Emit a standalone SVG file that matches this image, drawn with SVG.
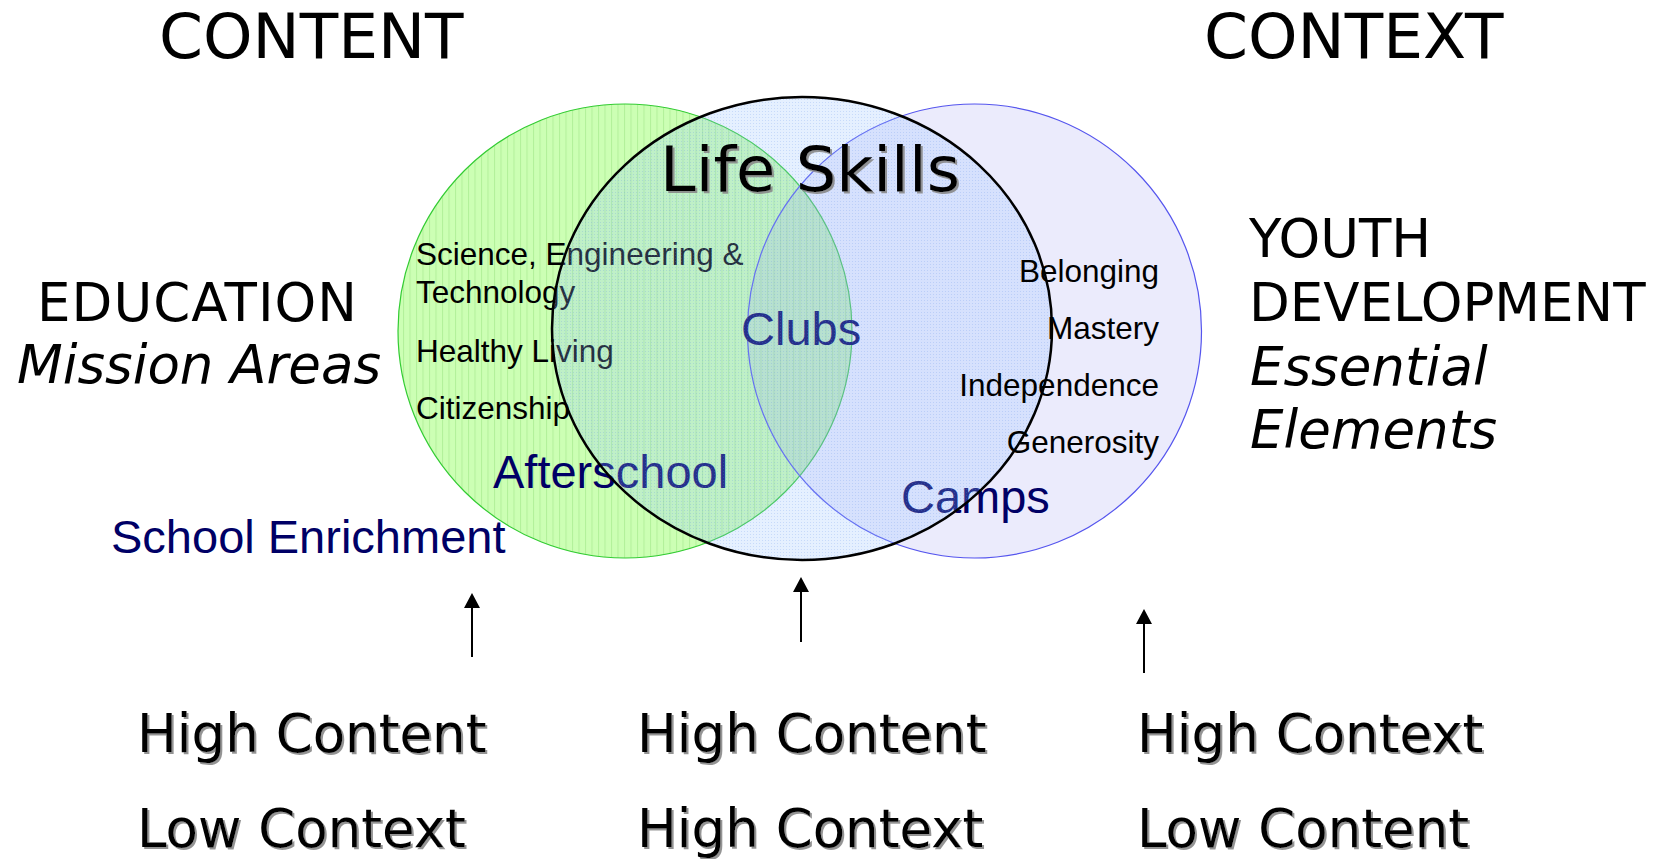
<svg xmlns="http://www.w3.org/2000/svg" width="1659" height="859" viewBox="0 0 1659 859">
  <style>
    .title { font-family: "DejaVu Sans", Verdana, sans-serif; font-size: 63px; fill: #000; }
    .side { font-family: "DejaVu Sans", Verdana, sans-serif; font-size: 53px; fill: #000; }
    .side-it { font-family: "DejaVu Sans", Verdana, sans-serif; font-size: 53px; font-style: italic; fill: #000; }
    .level { font-family: "DejaVu Sans", Verdana, sans-serif; font-size: 53px; fill: #000; filter: url(#shadow); }
    .skills { font-family: "DejaVu Sans", Verdana, sans-serif; font-size: 62px; fill: #000; filter: url(#shadow); }
    .item { font-family: "Liberation Sans", Arial, sans-serif; font-size: 31.5px; fill: #000; }
    .program { font-family: "Liberation Sans", Arial, sans-serif; font-size: 47px; fill: #000066; }
    .arrow { stroke: #000; stroke-width: 2; fill: none; marker-end: url(#head); }
  </style>
  <defs>
    <filter id="shadow" x="-5%" y="-20%" width="110%" height="140%">
      <feDropShadow dx="2" dy="2" stdDeviation="0.6" flood-color="#888" flood-opacity="0.9"/>
    </filter>
    <!-- vertical pin-stripe fill for the education circle -->
    <pattern id="stripes" patternUnits="userSpaceOnUse" width="6.5" height="10">
      <rect width="6.5" height="10" fill="#ccffb4"/>
      <line x1="0.5" y1="0" x2="0.5" y2="10" stroke="#b2f09a" stroke-width="1"/>
    </pattern>
    <!-- fine translucent dot grid for the life-skills ellipse -->
    <pattern id="dots" patternUnits="userSpaceOnUse" width="3" height="3">
      <rect width="3" height="3" fill="#99c2ff" fill-opacity="0.25"/>
      <rect x="0" y="0" width="1" height="1" fill="#5c8fe6" fill-opacity="0.22"/>
    </pattern>
    <marker id="head" markerUnits="userSpaceOnUse" markerWidth="16" markerHeight="17" refX="0" refY="8" orient="auto">
      <path d="M0,0 L15,8 L0,16 Z" fill="#000"/>
    </marker>
  </defs>

  <!-- column titles -->
  <g id="title-content"><text class="title" x="159" y="58">CONTENT</text></g>
  <g id="title-context"><text class="title" x="1204" y="58">CONTEXT</text></g>

  <!-- education circle -->
  <g id="education-circle">
    <circle cx="625" cy="331" r="227" fill="url(#stripes)" stroke="#33cc33" stroke-width="1.2"/>
  </g>

  <!-- youth development circle -->
  <g id="youth-circle">
    <circle cx="974.5" cy="331" r="227" fill="#9999f0" fill-opacity="0.2" stroke="#5555ee" stroke-width="1.2"/>
  </g>

  <!-- mission areas inside the education circle -->
  <g id="mission-areas">
    <text class="item" x="416" y="265">Science, Engineering &amp;</text>
    <text class="item" x="416" y="303">Technology</text>
    <text class="item" x="416" y="362">Healthy Living</text>
    <text class="item" x="416" y="419">Citizenship</text>
  </g>

  <!-- program types -->
  <g id="program-clubs"><text class="program" x="741" y="345" font-size="46" fill="#0a1670">Clubs</text></g>
  <g id="program-afterschool"><text class="program" x="493" y="488">Afterschool</text></g>
  <g id="program-camps"><text class="program" x="901" y="513">Camps</text></g>
  <g id="program-enrichment"><text class="program" x="111" y="553">School Enrichment</text></g>

  <!-- life skills ellipse -->
  <g id="life-skills-ellipse">
    <ellipse cx="802" cy="328.5" rx="250" ry="231.5" fill="url(#dots)" stroke="#000" stroke-width="2.5"/>
  </g>
  <g id="life-skills-label"><text class="skills" x="660" y="191" textLength="300" lengthAdjust="spacingAndGlyphs">Life Skills</text></g>

  <!-- essential elements inside the youth circle -->
  <g id="essential-elements" text-anchor="end">
    <text class="item" x="1159" y="282">Belonging</text>
    <text class="item" x="1159" y="339">Mastery</text>
    <text class="item" x="1159" y="396">Independence</text>
    <text class="item" x="1159" y="453">Generosity</text>
  </g>

  <!-- side labels -->
  <g id="label-education">
    <text class="side" x="37" y="321" textLength="320" lengthAdjust="spacing">EDUCATION</text>
    <text class="side-it" x="17" y="383">Mission Areas</text>
  </g>
  <g id="label-youth">
    <text class="side" x="1249" y="257">YOUTH</text>
    <text class="side" x="1249" y="321">DEVELOPMENT</text>
    <text class="side-it" x="1250" y="385">Essential</text>
    <text class="side-it" x="1250" y="448">Elements</text>
  </g>

  <!-- connectors -->
  <g id="connectors">
    <line class="arrow" x1="472" y1="657" x2="472" y2="608"/>
    <line class="arrow" x1="801" y1="642" x2="801" y2="592"/>
    <line class="arrow" x1="1144" y1="673" x2="1144" y2="624"/>
  </g>

  <!-- content / context levels -->
  <g id="level-left">
    <text class="level" x="137" y="752">High Content</text>
    <text class="level" x="137" y="847">Low Context</text>
  </g>
  <g id="level-middle">
    <text class="level" x="637" y="752">High Content</text>
    <text class="level" x="637" y="847">High Context</text>
  </g>
  <g id="level-right">
    <text class="level" x="1137" y="752">High Context</text>
    <text class="level" x="1137" y="847">Low Content</text>
  </g>
</svg>
